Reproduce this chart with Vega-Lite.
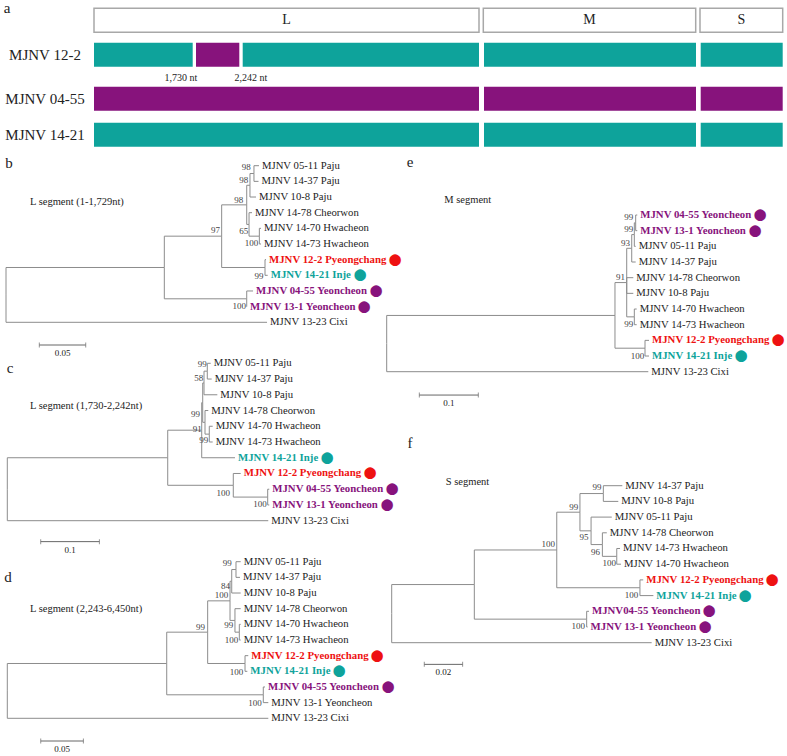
{
"$schema": "https://vega.github.io/schema/vega-lite/v6.json",
"width": 787,
"height": 756,
"padding": 0,
"autosize": {"type": "none"},
"config": {"view": {"stroke": null}, "text": {"font": "Liberation Serif"}, "rule": {"color": "#8c8c8c"}},
"datasets": {
"a_box": [{"s":"L","x":94,"x2":479,"y":8.3,"y2":32.3},{"s":"M","x":483.3,"x2":695.7,"y":8.3,"y2":32.3},{"s":"S","x":700,"x2":782.7,"y":8.3,"y2":32.3}],
"a_bar": [
{"r":"MJNV 12-2","g":"t","x":94,"x2":192.7,"y":42.7,"y2":66.7},
{"r":"MJNV 12-2","g":"p","x":196,"x2":239.3,"y":42.7,"y2":66.7},
{"r":"MJNV 12-2","g":"t","x":242.7,"x2":479,"y":42.7,"y2":66.7},
{"r":"MJNV 12-2","g":"t","x":484,"x2":696,"y":42.7,"y2":66.7},
{"r":"MJNV 12-2","g":"t","x":700.7,"x2":782.7,"y":42.7,"y2":66.7},
{"r":"MJNV 04-55","g":"p","x":94,"x2":479,"y":86.7,"y2":110.7},
{"r":"MJNV 04-55","g":"p","x":484,"x2":696,"y":86.7,"y2":110.7},
{"r":"MJNV 04-55","g":"p","x":700.7,"x2":782.7,"y":86.7,"y2":110.7},
{"r":"MJNV 14-21","g":"t","x":94,"x2":479,"y":122.7,"y2":146.7},
{"r":"MJNV 14-21","g":"t","x":484,"x2":696,"y":122.7,"y2":146.7},
{"r":"MJNV 14-21","g":"t","x":700.7,"x2":782.7,"y":122.7,"y2":146.7}],
"a_txt": [
{"x":7,"y":8,"t":"a","k":"letter"},
{"x":286.5,"y":20.3,"t":"L","k":"seg"},{"x":589.5,"y":20.3,"t":"M","k":"seg"},{"x":741.3,"y":20.3,"t":"S","k":"seg"},
{"x":45,"y":55,"t":"MJNV 12-2","k":"row"},{"x":45,"y":98.7,"t":"MJNV 04-55","k":"row"},{"x":45,"y":134.7,"t":"MJNV 14-21","k":"row"},
{"x":181,"y":78.3,"t":"1,730 nt","k":"nt"},{"x":250.8,"y":78.3,"t":"2,242 nt","k":"nt"}],

"b_e": [
{"x":0.1706,"px":0,"y":6.5,"py":8.25},{"x":0.2813,"px":0,"y":10,"py":8.25},
{"x":0.2324,"px":0.1706,"y":4.5,"py":6.5},{"x":0.2594,"px":0.1706,"y":8.5,"py":6.5},
{"x":0.2594,"px":0.2324,"y":2.5,"py":4.5},{"x":0.2791,"px":0.2324,"y":6.5,"py":4.5},
{"x":0.2629,"px":0.2594,"y":1.25,"py":2.5},{"x":0.2619,"px":0.2594,"y":3.75,"py":2.5},
{"x":0.2672,"px":0.2629,"y":0.5,"py":1.25},{"x":0.2694,"px":0.2629,"y":2,"py":1.25},
{"x":0.2726,"px":0.2672,"y":0,"py":0.5},{"x":0.2721,"px":0.2672,"y":1,"py":0.5},
{"x":0.2651,"px":0.2619,"y":3,"py":3.75},{"x":0.2730,"px":0.2619,"y":4.5,"py":3.75},
{"x":0.2748,"px":0.2730,"y":4,"py":4.5},{"x":0.2748,"px":0.2730,"y":5,"py":4.5},
{"x":0.2802,"px":0.2791,"y":6,"py":6.5},{"x":0.2820,"px":0.2791,"y":7,"py":6.5},
{"x":0.2662,"px":0.2594,"y":8,"py":8.5},{"x":0.2597,"px":0.2594,"y":9,"py":8.5}],
"b_l": [
{"n":"MJNV 05-11 Paju","g":"k","x":0.2726,"y":0},{"n":"MJNV 14-37 Paju","g":"k","x":0.2721,"y":1},
{"n":"MJNV 10-8 Paju","g":"k","x":0.2694,"y":2},{"n":"MJNV 14-78 Cheorwon","g":"k","x":0.2651,"y":3},
{"n":"MJNV 14-70 Hwacheon","g":"k","x":0.2748,"y":4},{"n":"MJNV 14-73 Hwacheon","g":"k","x":0.2748,"y":5},
{"n":"MJNV 12-2 Pyeongchang ⬤","g":"r","x":0.2802,"y":6},{"n":"MJNV 14-21 Inje ⬤","g":"t","x":0.2820,"y":7},
{"n":"MJNV 04-55 Yeoncheon ⬤","g":"p","x":0.2662,"y":8},{"n":"MJNV 13-1 Yeoncheon ⬤","g":"p","x":0.2597,"y":9},
{"n":"MJNV 13-23 Cixi","g":"k","x":0.2813,"y":10}],
"b_b": [
{"t":"98","x":0.2637,"y":0.10},{"t":"98","x":0.2611,"y":0.91},{"t":"98","x":0.2557,"y":2.19},{"t":"97","x":0.2306,"y":4.11},
{"t":"65","x":0.2611,"y":4.15},{"t":"100","x":0.2719,"y":4.92},{"t":"99","x":0.2776,"y":7.04},{"t":"100","x":0.2586,"y":8.96}],
"b_s": [{"x":0.0359,"x2":0.0859,"xm":0.0609,"y":11.45,"t":"0.05"}],
"b_a": [{"x":0.0032,"y":-0.17,"t":"b","k":"letter"},{"x":0.0259,"y":2.30,"t":"L segment (1-1,729nt)","k":"title"}],

"c_e": [
{"x":0.2733,"px":0,"y":6,"py":8},{"x":0.4446,"px":0,"y":10,"py":8},
{"x":0.3312,"px":0.2733,"y":4.25,"py":6},{"x":0.3850,"px":0.2733,"y":7.75,"py":6},
{"x":0.3329,"px":0.3312,"y":2.5,"py":4.25},{"x":0.3879,"px":0.3312,"y":6,"py":4.25},
{"x":0.3351,"px":0.3329,"y":1.25,"py":2.5},{"x":0.3368,"px":0.3329,"y":3.75,"py":2.5},
{"x":0.3407,"px":0.3351,"y":0.5,"py":1.25},{"x":0.3578,"px":0.3351,"y":2,"py":1.25},
{"x":0.3465,"px":0.3407,"y":0,"py":0.5},{"x":0.3482,"px":0.3407,"y":1,"py":0.5},
{"x":0.3424,"px":0.3368,"y":3,"py":3.75},{"x":0.3441,"px":0.3368,"y":4.5,"py":3.75},
{"x":0.3499,"px":0.3441,"y":4,"py":4.5},{"x":0.3499,"px":0.3441,"y":5,"py":4.5},
{"x":0.3976,"px":0.3850,"y":7,"py":7.75},{"x":0.4436,"px":0.3850,"y":8.5,"py":7.75},
{"x":0.4463,"px":0.4436,"y":8,"py":8.5},{"x":0.4463,"px":0.4436,"y":9,"py":8.5}],
"c_l": [
{"n":"MJNV 05-11 Paju","g":"k","x":0.3465,"y":0},{"n":"MJNV 14-37 Paju","g":"k","x":0.3482,"y":1},
{"n":"MJNV 10-8 Paju","g":"k","x":0.3578,"y":2},{"n":"MJNV 14-78 Cheorwon","g":"k","x":0.3424,"y":3},
{"n":"MJNV 14-70 Hwacheon","g":"k","x":0.3499,"y":4},{"n":"MJNV 14-73 Hwacheon","g":"k","x":0.3499,"y":5},
{"n":"MJNV 14-21 Inje ⬤","g":"t","x":0.3879,"y":6},{"n":"MJNV 12-2 Pyeongchang ⬤","g":"r","x":0.3976,"y":7},
{"n":"MJNV 04-55 Yeoncheon ⬤","g":"p","x":0.4463,"y":8},{"n":"MJNV 13-1 Yeoncheon ⬤","g":"p","x":0.4463,"y":9},
{"n":"MJNV 13-23 Cixi","g":"k","x":0.4446,"y":10}],
"c_b": [
{"t":"99","x":0.3397,"y":0.06},{"t":"58","x":0.3339,"y":0.91},{"t":"99","x":0.3283,"y":3.22},{"t":"91","x":0.3312,"y":4.19},
{"t":"99","x":0.3424,"y":4.87},{"t":"100","x":0.3794,"y":8.22},{"t":"100","x":0.4419,"y":8.94}],
"c_s": [{"x":0.0569,"x2":0.1569,"xm":0.1069,"y":11.33,"t":"0.1"}],
"c_a": [{"x":0.0046,"y":0.30,"t":"c","k":"letter"},{"x":0.0387,"y":2.71,"t":"L segment (1,730-2,242nt)","k":"title"}],

"d_e": [
{"x":0.1869,"px":0,"y":6.5,"py":8.25},{"x":0.3060,"px":0,"y":10,"py":8.25},
{"x":0.2349,"px":0.1869,"y":4.5,"py":6.5},{"x":0.3001,"px":0.1869,"y":8.5,"py":6.5},
{"x":0.2611,"px":0.2349,"y":2.5,"py":4.5},{"x":0.2787,"px":0.2349,"y":6.5,"py":4.5},
{"x":0.2631,"px":0.2611,"y":1.25,"py":2.5},{"x":0.2669,"px":0.2611,"y":3.75,"py":2.5},
{"x":0.2681,"px":0.2631,"y":0.5,"py":1.25},{"x":0.2736,"px":0.2631,"y":2,"py":1.25},
{"x":0.2736,"px":0.2681,"y":0,"py":0.5},{"x":0.2728,"px":0.2681,"y":1,"py":0.5},
{"x":0.2736,"px":0.2669,"y":3,"py":3.75},{"x":0.2720,"px":0.2669,"y":4.5,"py":3.75},
{"x":0.2736,"px":0.2720,"y":4,"py":4.5},{"x":0.2736,"px":0.2720,"y":5,"py":4.5},
{"x":0.2825,"px":0.2787,"y":6,"py":6.5},{"x":0.2814,"px":0.2787,"y":7,"py":6.5},
{"x":0.3021,"px":0.3001,"y":8,"py":8.5},{"x":0.3060,"px":0.3001,"y":9,"py":8.5}],
"d_l": [
{"n":"MJNV 05-11 Paju","g":"k","x":0.2736,"y":0},{"n":"MJNV 14-37 Paju","g":"k","x":0.2728,"y":1},
{"n":"MJNV 10-8 Paju","g":"k","x":0.2736,"y":2},{"n":"MJNV 14-78 Cheorwon","g":"k","x":0.2736,"y":3},
{"n":"MJNV 14-70 Hwacheon","g":"k","x":0.2736,"y":4},{"n":"MJNV 14-73 Hwacheon","g":"k","x":0.2736,"y":5},
{"n":"MJNV 12-2 Pyeongchang ⬤","g":"r","x":0.2825,"y":6},{"n":"MJNV 14-21 Inje ⬤","g":"t","x":0.2814,"y":7},
{"n":"MJNV 04-55 Yeoncheon ⬤","g":"p","x":0.3021,"y":8},{"n":"MJNV 13-1 Yeoncheon","g":"k","x":0.3060,"y":9},
{"n":"MJNV 13-23 Cixi","g":"k","x":0.3060,"y":10}],
"d_b": [
{"t":"99","x":0.2631,"y":0.10},{"t":"84","x":0.2611,"y":1.55},{"t":"100","x":0.2591,"y":2.13},{"t":"99","x":0.2318,"y":4.15},
{"t":"99","x":0.2649,"y":4.04},{"t":"100","x":0.2708,"y":5.0},{"t":"100","x":0.2767,"y":7.02},{"t":"100","x":0.2982,"y":9.04}],
"d_s": [{"x":0.0392,"x2":0.0892,"xm":0.0642,"y":11.45,"t":"0.05"}],
"d_a": [{"x":0.0008,"y":0.98,"t":"d","k":"letter"},{"x":0.0266,"y":3.04,"t":"L segment (2,243-6,450nt)","k":"title"}],

"e_e": [
{"x":0.3869,"px":0,"y":6.41,"py":8.2},{"x":0.4434,"px":0,"y":10,"py":8.2},
{"x":0.4068,"px":0.3869,"y":4.3125,"py":6.41},{"x":0.4378,"px":0.3869,"y":8.5,"py":6.41},
{"x":0.4153,"px":0.4068,"y":2.125,"py":4.3125},{"x":0.4180,"px":0.4068,"y":4,"py":4.3125},
{"x":0.4180,"px":0.4068,"y":5,"py":4.3125},{"x":0.4197,"px":0.4068,"y":6.5,"py":4.3125},
{"x":0.4197,"px":0.4153,"y":1.25,"py":2.125},{"x":0.4220,"px":0.4153,"y":3,"py":2.125},
{"x":0.4220,"px":0.4197,"y":0.5,"py":1.25},{"x":0.4220,"px":0.4197,"y":2,"py":1.25},
{"x":0.4247,"px":0.4220,"y":0,"py":0.5},{"x":0.4247,"px":0.4220,"y":1,"py":0.5},
{"x":0.4237,"px":0.4197,"y":6,"py":6.5},{"x":0.4237,"px":0.4197,"y":7,"py":6.5},
{"x":0.4446,"px":0.4378,"y":8,"py":8.5},{"x":0.4446,"px":0.4378,"y":9,"py":8.5}],
"e_l": [
{"n":"MJNV 04-55 Yeoncheon ⬤","g":"p","x":0.4247,"y":0},{"n":"MJNV 13-1 Yeoncheon ⬤","g":"p","x":0.4247,"y":1},
{"n":"MJNV 05-11 Paju","g":"k","x":0.4220,"y":2},{"n":"MJNV 14-37 Paju","g":"k","x":0.4220,"y":3},
{"n":"MJNV 14-78 Cheorwon","g":"k","x":0.4180,"y":4},{"n":"MJNV 10-8 Paju","g":"k","x":0.4180,"y":5},
{"n":"MJNV 14-70 Hwacheon","g":"k","x":0.4237,"y":6},{"n":"MJNV 14-73 Hwacheon","g":"k","x":0.4237,"y":7},
{"n":"MJNV 12-2 Pyeongchang ⬤","g":"r","x":0.4446,"y":8},{"n":"MJNV 14-21 Inje ⬤","g":"t","x":0.4446,"y":9},
{"n":"MJNV 13-23 Cixi","g":"k","x":0.4434,"y":10}],
"e_b": [
{"t":"99","x":0.4180,"y":0.11},{"t":"99","x":0.4180,"y":0.89},{"t":"93","x":0.4124,"y":1.77},{"t":"91","x":0.4039,"y":3.94},
{"t":"99","x":0.4180,"y":6.96},{"t":"100","x":0.4366,"y":9.0}],
"e_s": [{"x":0.0553,"x2":0.1553,"xm":0.1053,"y":11.49,"t":"0.1"}],
"e_a": [{"x":0.0395,"y":-3.38,"t":"e","k":"letter"},{"x":0.0976,"y":-0.96,"t":"M segment","k":"title"}],

"f_e": [
{"x":0.0431,"px":0,"y":6.297,"py":8.15},{"x":0.1356,"px":0,"y":10,"py":8.15},
{"x":0.0861,"px":0.0431,"y":4.094,"py":6.297},{"x":0.1017,"px":0.0431,"y":8.5,"py":6.297},
{"x":0.0982,"px":0.0861,"y":1.6875,"py":4.094},{"x":0.1295,"px":0.0861,"y":6.5,"py":4.094},
{"x":0.1104,"px":0.0982,"y":0.5,"py":1.6875},{"x":0.1040,"px":0.0982,"y":2.875,"py":1.6875},
{"x":0.1203,"px":0.1104,"y":0,"py":0.5},{"x":0.1182,"px":0.1104,"y":1,"py":0.5},
{"x":0.1148,"px":0.1040,"y":2,"py":2.875},{"x":0.1099,"px":0.1040,"y":3.75,"py":2.875},
{"x":0.1122,"px":0.1099,"y":3,"py":3.75},{"x":0.1174,"px":0.1099,"y":4.5,"py":3.75},
{"x":0.1191,"px":0.1174,"y":4,"py":4.5},{"x":0.1196,"px":0.1174,"y":5,"py":4.5},
{"x":0.1312,"px":0.1295,"y":6,"py":6.5},{"x":0.1365,"px":0.1295,"y":7,"py":6.5},
{"x":0.1029,"px":0.1017,"y":8,"py":8.5},{"x":0.1022,"px":0.1017,"y":9,"py":8.5}],
"f_l": [
{"n":"MJNV 14-37 Paju","g":"k","x":0.1203,"y":0},{"n":"MJNV 10-8 Paju","g":"k","x":0.1182,"y":1},
{"n":"MJNV 05-11 Paju","g":"k","x":0.1148,"y":2},{"n":"MJNV 14-78 Cheorwon","g":"k","x":0.1122,"y":3},
{"n":"MJNV 14-73 Hwacheon","g":"k","x":0.1191,"y":4},{"n":"MJNV 14-70 Hwacheon","g":"k","x":0.1196,"y":5},
{"n":"MJNV 12-2 Pyeongchang ⬤","g":"r","x":0.1312,"y":6},{"n":"MJNV 14-21 Inje ⬤","g":"t","x":0.1365,"y":7},
{"n":"MJNV04-55 Yeoncheon ⬤","g":"p","x":0.1029,"y":8},{"n":"MJNV 13-1 Yeoncheon ⬤","g":"p","x":0.1022,"y":9},
{"n":"MJNV 13-23 Cixi","g":"k","x":0.1356,"y":10}],
"f_b": [
{"t":"99","x":0.1095,"y":0.10},{"t":"99","x":0.0973,"y":1.34},{"t":"100","x":0.0852,"y":3.73},{"t":"95","x":0.1026,"y":3.29},
{"t":"96","x":0.1087,"y":4.20},{"t":"100","x":0.1170,"y":4.94},{"t":"100","x":0.1286,"y":6.96},{"t":"100","x":0.1008,"y":8.94}],
"f_s": [{"x":0.0170,"x2":0.0370,"xm":0.0270,"y":11.38,"t":"0.02"}],
"f_a": [{"x":0.0095,"y":-2.72,"t":"f","k":"letter"},{"x":0.0282,"y":-0.25,"t":"S segment","k":"title"}]
},
"resolve": {"scale": {"x": "independent", "y": "independent"}},
"layer": [
{"layer": [
{"data": {"name": "a_box"}, "mark": {"type": "rect", "fill": "white", "stroke": "#a8a8a8", "strokeWidth": 1.5},
 "encoding": {"x": {"field": "x", "type": "quantitative", "scale": {"domain": [0, 787], "nice": false, "zero": false}, "axis": null}, "x2": {"field": "x2"},
  "y": {"field": "y", "type": "quantitative", "scale": {"domain": [0, 756], "reverse": true, "nice": false, "zero": false}, "axis": null}, "y2": {"field": "y2"}}},
{"data": {"name": "a_bar"}, "mark": {"type": "rect"},
 "encoding": {"x": {"field": "x", "type": "quantitative", "scale": {"domain": [0, 787], "nice": false, "zero": false}, "axis": null}, "x2": {"field": "x2"},
  "y": {"field": "y", "type": "quantitative", "scale": {"domain": [0, 756], "reverse": true, "nice": false, "zero": false}, "axis": null}, "y2": {"field": "y2"},
  "color": {"field": "g", "type": "nominal", "scale": {"domain": ["r", "t", "p"], "range": ["#ee1111", "#0ea39b", "#87137c"]}, "legend": null}}},
{"data": {"name": "a_txt"}, "transform": [{"filter": "datum.k == 'seg'"}], "mark": {"type": "text", "fontSize": 14, "align": "center", "baseline": "middle", "fill": "#222"},
 "encoding": {"x": {"field": "x", "type": "quantitative", "scale": {"domain": [0, 787], "nice": false, "zero": false}, "axis": null},
  "y": {"field": "y", "type": "quantitative", "scale": {"domain": [0, 756], "reverse": true, "nice": false, "zero": false}, "axis": null}, "text": {"field": "t"}}},
{"data": {"name": "a_txt"}, "transform": [{"filter": "datum.k == 'row' || datum.k == 'letter'"}], "mark": {"type": "text", "fontSize": 15, "align": "center", "baseline": "middle", "fill": "#222"},
 "encoding": {"x": {"field": "x", "type": "quantitative", "scale": {"domain": [0, 787], "nice": false, "zero": false}, "axis": null},
  "y": {"field": "y", "type": "quantitative", "scale": {"domain": [0, 756], "reverse": true, "nice": false, "zero": false}, "axis": null}, "text": {"field": "t"}}},
{"data": {"name": "a_txt"}, "transform": [{"filter": "datum.k == 'nt'"}], "mark": {"type": "text", "fontSize": 10, "align": "center", "baseline": "middle", "fill": "#222"},
 "encoding": {"x": {"field": "x", "type": "quantitative", "scale": {"domain": [0, 787], "nice": false, "zero": false}, "axis": null},
  "y": {"field": "y", "type": "quantitative", "scale": {"domain": [0, 756], "reverse": true, "nice": false, "zero": false}, "axis": null}, "text": {"field": "t"}}}
]},
{"layer": [
{"data": {"name": "b_e"}, "mark": {"type": "rule"}, "encoding": {"x": {"field": "px", "type": "quantitative", "scale": {"domain": [-0.006466, 0.841595], "nice": false, "zero": false}, "axis": null}, "x2": {"field": "x"}, "y": {"field": "y", "type": "quantitative", "scale": {"domain": [-10.5811, 37.6948], "reverse": true, "nice": false, "zero": false}, "axis": null}}},
{"data": {"name": "b_e"}, "mark": {"type": "rule"}, "encoding": {"x": {"field": "px", "type": "quantitative", "scale": {"domain": [-0.006466, 0.841595], "nice": false, "zero": false}, "axis": null}, "y": {"field": "py", "type": "quantitative", "scale": {"domain": [-10.5811, 37.6948], "reverse": true, "nice": false, "zero": false}, "axis": null}, "y2": {"field": "y"}}},
{"data": {"name": "b_l"}, "transform": [{"filter": "datum.g == 'k'"}], "mark": {"type": "text", "align": "left", "baseline": "middle", "dx": 3, "fontSize": 10.7, "fill": "#222"}, "encoding": {"x": {"field": "x", "type": "quantitative", "scale": {"domain": [-0.006466, 0.841595], "nice": false, "zero": false}, "axis": null}, "y": {"field": "y", "type": "quantitative", "scale": {"domain": [-10.5811, 37.6948], "reverse": true, "nice": false, "zero": false}, "axis": null}, "text": {"field": "n"}}},
{"data": {"name": "b_l"}, "transform": [{"filter": "datum.g != 'k'"}], "mark": {"type": "text", "align": "left", "baseline": "middle", "dx": 3, "fontSize": 10.8, "fontWeight": "bold"}, "encoding": {"x": {"field": "x", "type": "quantitative", "scale": {"domain": [-0.006466, 0.841595], "nice": false, "zero": false}, "axis": null}, "y": {"field": "y", "type": "quantitative", "scale": {"domain": [-10.5811, 37.6948], "reverse": true, "nice": false, "zero": false}, "axis": null}, "text": {"field": "n"}, "color": {"field": "g", "type": "nominal", "scale": {"domain": ["r", "t", "p"], "range": ["#ee1111", "#0ea39b", "#87137c"]}, "legend": null}}},
{"data": {"name": "b_b"}, "mark": {"type": "text", "align": "right", "baseline": "middle", "fontSize": 9, "fill": "#444"}, "encoding": {"x": {"field": "x", "type": "quantitative", "scale": {"domain": [-0.006466, 0.841595], "nice": false, "zero": false}, "axis": null}, "y": {"field": "y", "type": "quantitative", "scale": {"domain": [-10.5811, 37.6948], "reverse": true, "nice": false, "zero": false}, "axis": null}, "text": {"field": "t"}}},
{"data": {"name": "b_s"}, "mark": {"type": "rule", "color": "#666"}, "encoding": {"x": {"field": "x", "type": "quantitative", "scale": {"domain": [-0.006466, 0.841595], "nice": false, "zero": false}, "axis": null}, "x2": {"field": "x2"}, "y": {"field": "y", "type": "quantitative", "scale": {"domain": [-10.5811, 37.6948], "reverse": true, "nice": false, "zero": false}, "axis": null}}},
{"data": {"name": "b_s"}, "mark": {"type": "tick", "orient": "vertical", "size": 5, "thickness": 1, "color": "#666"}, "encoding": {"x": {"field": "x", "type": "quantitative", "scale": {"domain": [-0.006466, 0.841595], "nice": false, "zero": false}, "axis": null}, "y": {"field": "y", "type": "quantitative", "scale": {"domain": [-10.5811, 37.6948], "reverse": true, "nice": false, "zero": false}, "axis": null}}},
{"data": {"name": "b_s"}, "mark": {"type": "tick", "orient": "vertical", "size": 5, "thickness": 1, "color": "#666"}, "encoding": {"x": {"field": "x2", "type": "quantitative", "scale": {"domain": [-0.006466, 0.841595], "nice": false, "zero": false}, "axis": null}, "y": {"field": "y", "type": "quantitative", "scale": {"domain": [-10.5811, 37.6948], "reverse": true, "nice": false, "zero": false}, "axis": null}}},
{"data": {"name": "b_s"}, "mark": {"type": "text", "align": "center", "baseline": "middle", "fontSize": 9, "dy": 8, "fill": "#222"}, "encoding": {"x": {"field": "xm", "type": "quantitative", "scale": {"domain": [-0.006466, 0.841595], "nice": false, "zero": false}, "axis": null}, "y": {"field": "y", "type": "quantitative", "scale": {"domain": [-10.5811, 37.6948], "reverse": true, "nice": false, "zero": false}, "axis": null}, "text": {"field": "t"}}},
{"data": {"name": "b_a"}, "transform": [{"filter": "datum.k == 'letter'"}], "mark": {"type": "text", "align": "center", "baseline": "middle", "fontSize": 15, "fill": "#222"}, "encoding": {"x": {"field": "x", "type": "quantitative", "scale": {"domain": [-0.006466, 0.841595], "nice": false, "zero": false}, "axis": null}, "y": {"field": "y", "type": "quantitative", "scale": {"domain": [-10.5811, 37.6948], "reverse": true, "nice": false, "zero": false}, "axis": null}, "text": {"field": "t"}}},
{"data": {"name": "b_a"}, "transform": [{"filter": "datum.k == 'title'"}], "mark": {"type": "text", "align": "left", "baseline": "middle", "fontSize": 10.5, "fill": "#222"}, "encoding": {"x": {"field": "x", "type": "quantitative", "scale": {"domain": [-0.006466, 0.841595], "nice": false, "zero": false}, "axis": null}, "y": {"field": "y", "type": "quantitative", "scale": {"domain": [-10.5811, 37.6948], "reverse": true, "nice": false, "zero": false}, "axis": null}, "text": {"field": "t"}}}
]},
{"layer": [
{"data": {"name": "c_e"}, "mark": {"type": "rule"}, "encoding": {"x": {"field": "px", "type": "quantitative", "scale": {"domain": [-0.012436, 1.328279], "nice": false, "zero": false}, "axis": null}, "x2": {"field": "x"}, "y": {"field": "y", "type": "quantitative", "scale": {"domain": [-23.0813, 24.9492], "reverse": true, "nice": false, "zero": false}, "axis": null}}},
{"data": {"name": "c_e"}, "mark": {"type": "rule"}, "encoding": {"x": {"field": "px", "type": "quantitative", "scale": {"domain": [-0.012436, 1.328279], "nice": false, "zero": false}, "axis": null}, "y": {"field": "py", "type": "quantitative", "scale": {"domain": [-23.0813, 24.9492], "reverse": true, "nice": false, "zero": false}, "axis": null}, "y2": {"field": "y"}}},
{"data": {"name": "c_l"}, "transform": [{"filter": "datum.g == 'k'"}], "mark": {"type": "text", "align": "left", "baseline": "middle", "dx": 3, "fontSize": 10.7, "fill": "#222"}, "encoding": {"x": {"field": "x", "type": "quantitative", "scale": {"domain": [-0.012436, 1.328279], "nice": false, "zero": false}, "axis": null}, "y": {"field": "y", "type": "quantitative", "scale": {"domain": [-23.0813, 24.9492], "reverse": true, "nice": false, "zero": false}, "axis": null}, "text": {"field": "n"}}},
{"data": {"name": "c_l"}, "transform": [{"filter": "datum.g != 'k'"}], "mark": {"type": "text", "align": "left", "baseline": "middle", "dx": 3, "fontSize": 10.8, "fontWeight": "bold"}, "encoding": {"x": {"field": "x", "type": "quantitative", "scale": {"domain": [-0.012436, 1.328279], "nice": false, "zero": false}, "axis": null}, "y": {"field": "y", "type": "quantitative", "scale": {"domain": [-23.0813, 24.9492], "reverse": true, "nice": false, "zero": false}, "axis": null}, "text": {"field": "n"}, "color": {"field": "g", "type": "nominal", "scale": {"domain": ["r", "t", "p"], "range": ["#ee1111", "#0ea39b", "#87137c"]}, "legend": null}}},
{"data": {"name": "c_b"}, "mark": {"type": "text", "align": "right", "baseline": "middle", "fontSize": 9, "fill": "#444"}, "encoding": {"x": {"field": "x", "type": "quantitative", "scale": {"domain": [-0.012436, 1.328279], "nice": false, "zero": false}, "axis": null}, "y": {"field": "y", "type": "quantitative", "scale": {"domain": [-23.0813, 24.9492], "reverse": true, "nice": false, "zero": false}, "axis": null}, "text": {"field": "t"}}},
{"data": {"name": "c_s"}, "mark": {"type": "rule", "color": "#666"}, "encoding": {"x": {"field": "x", "type": "quantitative", "scale": {"domain": [-0.012436, 1.328279], "nice": false, "zero": false}, "axis": null}, "x2": {"field": "x2"}, "y": {"field": "y", "type": "quantitative", "scale": {"domain": [-23.0813, 24.9492], "reverse": true, "nice": false, "zero": false}, "axis": null}}},
{"data": {"name": "c_s"}, "mark": {"type": "tick", "orient": "vertical", "size": 5, "thickness": 1, "color": "#666"}, "encoding": {"x": {"field": "x", "type": "quantitative", "scale": {"domain": [-0.012436, 1.328279], "nice": false, "zero": false}, "axis": null}, "y": {"field": "y", "type": "quantitative", "scale": {"domain": [-23.0813, 24.9492], "reverse": true, "nice": false, "zero": false}, "axis": null}}},
{"data": {"name": "c_s"}, "mark": {"type": "tick", "orient": "vertical", "size": 5, "thickness": 1, "color": "#666"}, "encoding": {"x": {"field": "x2", "type": "quantitative", "scale": {"domain": [-0.012436, 1.328279], "nice": false, "zero": false}, "axis": null}, "y": {"field": "y", "type": "quantitative", "scale": {"domain": [-23.0813, 24.9492], "reverse": true, "nice": false, "zero": false}, "axis": null}}},
{"data": {"name": "c_s"}, "mark": {"type": "text", "align": "center", "baseline": "middle", "fontSize": 9, "dy": 8, "fill": "#222"}, "encoding": {"x": {"field": "xm", "type": "quantitative", "scale": {"domain": [-0.012436, 1.328279], "nice": false, "zero": false}, "axis": null}, "y": {"field": "y", "type": "quantitative", "scale": {"domain": [-23.0813, 24.9492], "reverse": true, "nice": false, "zero": false}, "axis": null}, "text": {"field": "t"}}},
{"data": {"name": "c_a"}, "transform": [{"filter": "datum.k == 'letter'"}], "mark": {"type": "text", "align": "center", "baseline": "middle", "fontSize": 15, "fill": "#222"}, "encoding": {"x": {"field": "x", "type": "quantitative", "scale": {"domain": [-0.012436, 1.328279], "nice": false, "zero": false}, "axis": null}, "y": {"field": "y", "type": "quantitative", "scale": {"domain": [-23.0813, 24.9492], "reverse": true, "nice": false, "zero": false}, "axis": null}, "text": {"field": "t"}}},
{"data": {"name": "c_a"}, "transform": [{"filter": "datum.k == 'title'"}], "mark": {"type": "text", "align": "left", "baseline": "middle", "fontSize": 10.5, "fill": "#222"}, "encoding": {"x": {"field": "x", "type": "quantitative", "scale": {"domain": [-0.012436, 1.328279], "nice": false, "zero": false}, "axis": null}, "y": {"field": "y", "type": "quantitative", "scale": {"domain": [-23.0813, 24.9492], "reverse": true, "nice": false, "zero": false}, "axis": null}, "text": {"field": "t"}}}
]},
{"layer": [
{"data": {"name": "d_e"}, "mark": {"type": "rule"}, "encoding": {"x": {"field": "px", "type": "quantitative", "scale": {"domain": [-0.008558, 0.914068], "nice": false, "zero": false}, "axis": null}, "x2": {"field": "x"}, "y": {"field": "y", "type": "quantitative", "scale": {"domain": [-35.8685, 12.4074], "reverse": true, "nice": false, "zero": false}, "axis": null}}},
{"data": {"name": "d_e"}, "mark": {"type": "rule"}, "encoding": {"x": {"field": "px", "type": "quantitative", "scale": {"domain": [-0.008558, 0.914068], "nice": false, "zero": false}, "axis": null}, "y": {"field": "py", "type": "quantitative", "scale": {"domain": [-35.8685, 12.4074], "reverse": true, "nice": false, "zero": false}, "axis": null}, "y2": {"field": "y"}}},
{"data": {"name": "d_l"}, "transform": [{"filter": "datum.g == 'k'"}], "mark": {"type": "text", "align": "left", "baseline": "middle", "dx": 3, "fontSize": 10.7, "fill": "#222"}, "encoding": {"x": {"field": "x", "type": "quantitative", "scale": {"domain": [-0.008558, 0.914068], "nice": false, "zero": false}, "axis": null}, "y": {"field": "y", "type": "quantitative", "scale": {"domain": [-35.8685, 12.4074], "reverse": true, "nice": false, "zero": false}, "axis": null}, "text": {"field": "n"}}},
{"data": {"name": "d_l"}, "transform": [{"filter": "datum.g != 'k'"}], "mark": {"type": "text", "align": "left", "baseline": "middle", "dx": 3, "fontSize": 10.8, "fontWeight": "bold"}, "encoding": {"x": {"field": "x", "type": "quantitative", "scale": {"domain": [-0.008558, 0.914068], "nice": false, "zero": false}, "axis": null}, "y": {"field": "y", "type": "quantitative", "scale": {"domain": [-35.8685, 12.4074], "reverse": true, "nice": false, "zero": false}, "axis": null}, "text": {"field": "n"}, "color": {"field": "g", "type": "nominal", "scale": {"domain": ["r", "t", "p"], "range": ["#ee1111", "#0ea39b", "#87137c"]}, "legend": null}}},
{"data": {"name": "d_b"}, "mark": {"type": "text", "align": "right", "baseline": "middle", "fontSize": 9, "fill": "#444"}, "encoding": {"x": {"field": "x", "type": "quantitative", "scale": {"domain": [-0.008558, 0.914068], "nice": false, "zero": false}, "axis": null}, "y": {"field": "y", "type": "quantitative", "scale": {"domain": [-35.8685, 12.4074], "reverse": true, "nice": false, "zero": false}, "axis": null}, "text": {"field": "t"}}},
{"data": {"name": "d_s"}, "mark": {"type": "rule", "color": "#666"}, "encoding": {"x": {"field": "x", "type": "quantitative", "scale": {"domain": [-0.008558, 0.914068], "nice": false, "zero": false}, "axis": null}, "x2": {"field": "x2"}, "y": {"field": "y", "type": "quantitative", "scale": {"domain": [-35.8685, 12.4074], "reverse": true, "nice": false, "zero": false}, "axis": null}}},
{"data": {"name": "d_s"}, "mark": {"type": "tick", "orient": "vertical", "size": 5, "thickness": 1, "color": "#666"}, "encoding": {"x": {"field": "x", "type": "quantitative", "scale": {"domain": [-0.008558, 0.914068], "nice": false, "zero": false}, "axis": null}, "y": {"field": "y", "type": "quantitative", "scale": {"domain": [-35.8685, 12.4074], "reverse": true, "nice": false, "zero": false}, "axis": null}}},
{"data": {"name": "d_s"}, "mark": {"type": "tick", "orient": "vertical", "size": 5, "thickness": 1, "color": "#666"}, "encoding": {"x": {"field": "x2", "type": "quantitative", "scale": {"domain": [-0.008558, 0.914068], "nice": false, "zero": false}, "axis": null}, "y": {"field": "y", "type": "quantitative", "scale": {"domain": [-35.8685, 12.4074], "reverse": true, "nice": false, "zero": false}, "axis": null}}},
{"data": {"name": "d_s"}, "mark": {"type": "text", "align": "center", "baseline": "middle", "fontSize": 9, "dy": 8, "fill": "#222"}, "encoding": {"x": {"field": "xm", "type": "quantitative", "scale": {"domain": [-0.008558, 0.914068], "nice": false, "zero": false}, "axis": null}, "y": {"field": "y", "type": "quantitative", "scale": {"domain": [-35.8685, 12.4074], "reverse": true, "nice": false, "zero": false}, "axis": null}, "text": {"field": "t"}}},
{"data": {"name": "d_a"}, "transform": [{"filter": "datum.k == 'letter'"}], "mark": {"type": "text", "align": "center", "baseline": "middle", "fontSize": 15, "fill": "#222"}, "encoding": {"x": {"field": "x", "type": "quantitative", "scale": {"domain": [-0.008558, 0.914068], "nice": false, "zero": false}, "axis": null}, "y": {"field": "y", "type": "quantitative", "scale": {"domain": [-35.8685, 12.4074], "reverse": true, "nice": false, "zero": false}, "axis": null}, "text": {"field": "t"}}},
{"data": {"name": "d_a"}, "transform": [{"filter": "datum.k == 'title'"}], "mark": {"type": "text", "align": "left", "baseline": "middle", "fontSize": 10.5, "fill": "#222"}, "encoding": {"x": {"field": "x", "type": "quantitative", "scale": {"domain": [-0.008558, 0.914068], "nice": false, "zero": false}, "axis": null}, "y": {"field": "y", "type": "quantitative", "scale": {"domain": [-35.8685, 12.4074], "reverse": true, "nice": false, "zero": false}, "axis": null}, "text": {"field": "t"}}}
]},
{"layer": [
{"data": {"name": "e_e"}, "mark": {"type": "rule"}, "encoding": {"x": {"field": "px", "type": "quantitative", "scale": {"domain": [-0.655424, 0.678475], "nice": false, "zero": false}, "axis": null}, "x2": {"field": "x"}, "y": {"field": "y", "type": "quantitative", "scale": {"domain": [-13.7205, 34.5246], "reverse": true, "nice": false, "zero": false}, "axis": null}}},
{"data": {"name": "e_e"}, "mark": {"type": "rule"}, "encoding": {"x": {"field": "px", "type": "quantitative", "scale": {"domain": [-0.655424, 0.678475], "nice": false, "zero": false}, "axis": null}, "y": {"field": "py", "type": "quantitative", "scale": {"domain": [-13.7205, 34.5246], "reverse": true, "nice": false, "zero": false}, "axis": null}, "y2": {"field": "y"}}},
{"data": {"name": "e_l"}, "transform": [{"filter": "datum.g == 'k'"}], "mark": {"type": "text", "align": "left", "baseline": "middle", "dx": 3, "fontSize": 10.7, "fill": "#222"}, "encoding": {"x": {"field": "x", "type": "quantitative", "scale": {"domain": [-0.655424, 0.678475], "nice": false, "zero": false}, "axis": null}, "y": {"field": "y", "type": "quantitative", "scale": {"domain": [-13.7205, 34.5246], "reverse": true, "nice": false, "zero": false}, "axis": null}, "text": {"field": "n"}}},
{"data": {"name": "e_l"}, "transform": [{"filter": "datum.g != 'k'"}], "mark": {"type": "text", "align": "left", "baseline": "middle", "dx": 3, "fontSize": 10.8, "fontWeight": "bold"}, "encoding": {"x": {"field": "x", "type": "quantitative", "scale": {"domain": [-0.655424, 0.678475], "nice": false, "zero": false}, "axis": null}, "y": {"field": "y", "type": "quantitative", "scale": {"domain": [-13.7205, 34.5246], "reverse": true, "nice": false, "zero": false}, "axis": null}, "text": {"field": "n"}, "color": {"field": "g", "type": "nominal", "scale": {"domain": ["r", "t", "p"], "range": ["#ee1111", "#0ea39b", "#87137c"]}, "legend": null}}},
{"data": {"name": "e_b"}, "mark": {"type": "text", "align": "right", "baseline": "middle", "fontSize": 9, "fill": "#444"}, "encoding": {"x": {"field": "x", "type": "quantitative", "scale": {"domain": [-0.655424, 0.678475], "nice": false, "zero": false}, "axis": null}, "y": {"field": "y", "type": "quantitative", "scale": {"domain": [-13.7205, 34.5246], "reverse": true, "nice": false, "zero": false}, "axis": null}, "text": {"field": "t"}}},
{"data": {"name": "e_s"}, "mark": {"type": "rule", "color": "#666"}, "encoding": {"x": {"field": "x", "type": "quantitative", "scale": {"domain": [-0.655424, 0.678475], "nice": false, "zero": false}, "axis": null}, "x2": {"field": "x2"}, "y": {"field": "y", "type": "quantitative", "scale": {"domain": [-13.7205, 34.5246], "reverse": true, "nice": false, "zero": false}, "axis": null}}},
{"data": {"name": "e_s"}, "mark": {"type": "tick", "orient": "vertical", "size": 5, "thickness": 1, "color": "#666"}, "encoding": {"x": {"field": "x", "type": "quantitative", "scale": {"domain": [-0.655424, 0.678475], "nice": false, "zero": false}, "axis": null}, "y": {"field": "y", "type": "quantitative", "scale": {"domain": [-13.7205, 34.5246], "reverse": true, "nice": false, "zero": false}, "axis": null}}},
{"data": {"name": "e_s"}, "mark": {"type": "tick", "orient": "vertical", "size": 5, "thickness": 1, "color": "#666"}, "encoding": {"x": {"field": "x2", "type": "quantitative", "scale": {"domain": [-0.655424, 0.678475], "nice": false, "zero": false}, "axis": null}, "y": {"field": "y", "type": "quantitative", "scale": {"domain": [-13.7205, 34.5246], "reverse": true, "nice": false, "zero": false}, "axis": null}}},
{"data": {"name": "e_s"}, "mark": {"type": "text", "align": "center", "baseline": "middle", "fontSize": 9, "dy": 8, "fill": "#222"}, "encoding": {"x": {"field": "xm", "type": "quantitative", "scale": {"domain": [-0.655424, 0.678475], "nice": false, "zero": false}, "axis": null}, "y": {"field": "y", "type": "quantitative", "scale": {"domain": [-13.7205, 34.5246], "reverse": true, "nice": false, "zero": false}, "axis": null}, "text": {"field": "t"}}},
{"data": {"name": "e_a"}, "transform": [{"filter": "datum.k == 'letter'"}], "mark": {"type": "text", "align": "center", "baseline": "middle", "fontSize": 15, "fill": "#222"}, "encoding": {"x": {"field": "x", "type": "quantitative", "scale": {"domain": [-0.655424, 0.678475], "nice": false, "zero": false}, "axis": null}, "y": {"field": "y", "type": "quantitative", "scale": {"domain": [-13.7205, 34.5246], "reverse": true, "nice": false, "zero": false}, "axis": null}, "text": {"field": "t"}}},
{"data": {"name": "e_a"}, "transform": [{"filter": "datum.k == 'title'"}], "mark": {"type": "text", "align": "left", "baseline": "middle", "fontSize": 10.5, "fill": "#222"}, "encoding": {"x": {"field": "x", "type": "quantitative", "scale": {"domain": [-0.655424, 0.678475], "nice": false, "zero": false}, "axis": null}, "y": {"field": "y", "type": "quantitative", "scale": {"domain": [-13.7205, 34.5246], "reverse": true, "nice": false, "zero": false}, "axis": null}, "text": {"field": "t"}}}
]},
{"layer": [
{"data": {"name": "f_e"}, "mark": {"type": "rule"}, "encoding": {"x": {"field": "px", "type": "quantitative", "scale": {"domain": [-0.20433, 0.206208], "nice": false, "zero": false}, "axis": null}, "x2": {"field": "x"}, "y": {"field": "y", "type": "quantitative", "scale": {"domain": [-30.9363, 17.2166], "reverse": true, "nice": false, "zero": false}, "axis": null}}},
{"data": {"name": "f_e"}, "mark": {"type": "rule"}, "encoding": {"x": {"field": "px", "type": "quantitative", "scale": {"domain": [-0.20433, 0.206208], "nice": false, "zero": false}, "axis": null}, "y": {"field": "py", "type": "quantitative", "scale": {"domain": [-30.9363, 17.2166], "reverse": true, "nice": false, "zero": false}, "axis": null}, "y2": {"field": "y"}}},
{"data": {"name": "f_l"}, "transform": [{"filter": "datum.g == 'k'"}], "mark": {"type": "text", "align": "left", "baseline": "middle", "dx": 3, "fontSize": 10.7, "fill": "#222"}, "encoding": {"x": {"field": "x", "type": "quantitative", "scale": {"domain": [-0.20433, 0.206208], "nice": false, "zero": false}, "axis": null}, "y": {"field": "y", "type": "quantitative", "scale": {"domain": [-30.9363, 17.2166], "reverse": true, "nice": false, "zero": false}, "axis": null}, "text": {"field": "n"}}},
{"data": {"name": "f_l"}, "transform": [{"filter": "datum.g != 'k'"}], "mark": {"type": "text", "align": "left", "baseline": "middle", "dx": 3, "fontSize": 10.8, "fontWeight": "bold"}, "encoding": {"x": {"field": "x", "type": "quantitative", "scale": {"domain": [-0.20433, 0.206208], "nice": false, "zero": false}, "axis": null}, "y": {"field": "y", "type": "quantitative", "scale": {"domain": [-30.9363, 17.2166], "reverse": true, "nice": false, "zero": false}, "axis": null}, "text": {"field": "n"}, "color": {"field": "g", "type": "nominal", "scale": {"domain": ["r", "t", "p"], "range": ["#ee1111", "#0ea39b", "#87137c"]}, "legend": null}}},
{"data": {"name": "f_b"}, "mark": {"type": "text", "align": "right", "baseline": "middle", "fontSize": 9, "fill": "#444"}, "encoding": {"x": {"field": "x", "type": "quantitative", "scale": {"domain": [-0.20433, 0.206208], "nice": false, "zero": false}, "axis": null}, "y": {"field": "y", "type": "quantitative", "scale": {"domain": [-30.9363, 17.2166], "reverse": true, "nice": false, "zero": false}, "axis": null}, "text": {"field": "t"}}},
{"data": {"name": "f_s"}, "mark": {"type": "rule", "color": "#666"}, "encoding": {"x": {"field": "x", "type": "quantitative", "scale": {"domain": [-0.20433, 0.206208], "nice": false, "zero": false}, "axis": null}, "x2": {"field": "x2"}, "y": {"field": "y", "type": "quantitative", "scale": {"domain": [-30.9363, 17.2166], "reverse": true, "nice": false, "zero": false}, "axis": null}}},
{"data": {"name": "f_s"}, "mark": {"type": "tick", "orient": "vertical", "size": 5, "thickness": 1, "color": "#666"}, "encoding": {"x": {"field": "x", "type": "quantitative", "scale": {"domain": [-0.20433, 0.206208], "nice": false, "zero": false}, "axis": null}, "y": {"field": "y", "type": "quantitative", "scale": {"domain": [-30.9363, 17.2166], "reverse": true, "nice": false, "zero": false}, "axis": null}}},
{"data": {"name": "f_s"}, "mark": {"type": "tick", "orient": "vertical", "size": 5, "thickness": 1, "color": "#666"}, "encoding": {"x": {"field": "x2", "type": "quantitative", "scale": {"domain": [-0.20433, 0.206208], "nice": false, "zero": false}, "axis": null}, "y": {"field": "y", "type": "quantitative", "scale": {"domain": [-30.9363, 17.2166], "reverse": true, "nice": false, "zero": false}, "axis": null}}},
{"data": {"name": "f_s"}, "mark": {"type": "text", "align": "center", "baseline": "middle", "fontSize": 9, "dy": 8, "fill": "#222"}, "encoding": {"x": {"field": "xm", "type": "quantitative", "scale": {"domain": [-0.20433, 0.206208], "nice": false, "zero": false}, "axis": null}, "y": {"field": "y", "type": "quantitative", "scale": {"domain": [-30.9363, 17.2166], "reverse": true, "nice": false, "zero": false}, "axis": null}, "text": {"field": "t"}}},
{"data": {"name": "f_a"}, "transform": [{"filter": "datum.k == 'letter'"}], "mark": {"type": "text", "align": "center", "baseline": "middle", "fontSize": 15, "fill": "#222"}, "encoding": {"x": {"field": "x", "type": "quantitative", "scale": {"domain": [-0.20433, 0.206208], "nice": false, "zero": false}, "axis": null}, "y": {"field": "y", "type": "quantitative", "scale": {"domain": [-30.9363, 17.2166], "reverse": true, "nice": false, "zero": false}, "axis": null}, "text": {"field": "t"}}},
{"data": {"name": "f_a"}, "transform": [{"filter": "datum.k == 'title'"}], "mark": {"type": "text", "align": "left", "baseline": "middle", "fontSize": 10.5, "fill": "#222"}, "encoding": {"x": {"field": "x", "type": "quantitative", "scale": {"domain": [-0.20433, 0.206208], "nice": false, "zero": false}, "axis": null}, "y": {"field": "y", "type": "quantitative", "scale": {"domain": [-30.9363, 17.2166], "reverse": true, "nice": false, "zero": false}, "axis": null}, "text": {"field": "t"}}}
]}
]
}
